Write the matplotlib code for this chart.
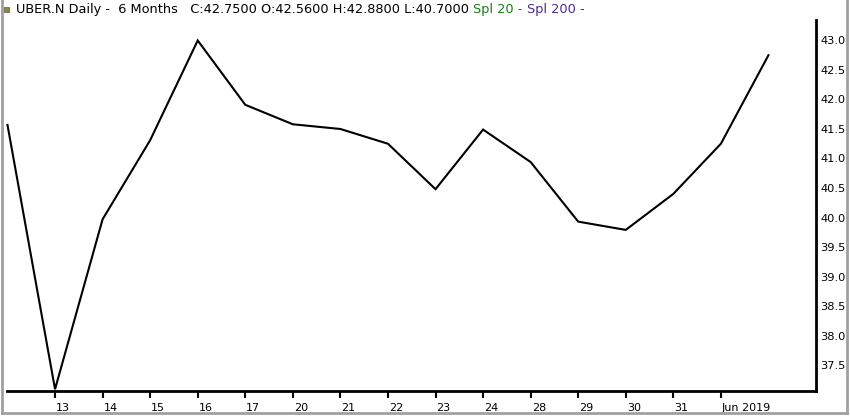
import matplotlib
matplotlib.use("Agg")
import matplotlib.pyplot as plt
from matplotlib.lines import Line2D
from matplotlib.patches import Rectangle
import matplotlib.transforms as mtrans

dates = ["10", "13", "14", "15", "16", "17", "20", "21", "22", "23", "24",
         "28", "29", "30", "31", "Jun 3", "4"]
close = [41.57, 37.09, 39.97, 41.31, 43.00, 41.91, 41.58, 41.50, 41.25, 40.48,
         41.49, 40.94, 39.93, 39.79, 40.40, 41.25, 42.75]
xtick_idx = list(range(1, 16))
xtick_labels = ["13", "14", "15", "16", "17", "20", "21", "22", "23", "24",
                "28", "29", "30", "31", "Jun 2019"]
ytick_vals = [37.5, 38.0, 38.5, 39.0, 39.5, 40.0, 40.5, 41.0, 41.5, 42.0, 42.5, 43.0]

title_parts = [("UBER.N Daily -  6 Months   C:42.7500 O:42.5600 H:42.8800 L:40.7000 ", "black"),
               ("Spl 20 - ", "#1a7a1a"),
               ("Spl 200 -", "#4b2a8c")]

plt.rcParams['font.family'] = ['DejaVu Sans']
fig = plt.figure(figsize=(8.5, 4.17), dpi=100)
W, H = 850, 417
ax = fig.add_axes([7 / W, 1 - 391 / H, (816 - 7) / W, (391 - 20) / H])

xs = list(range(len(close)))
ax.plot(xs, close, color="black", lw=1.5, solid_joinstyle="miter", clip_on=False)
ax.set_xlim(-0.01, 17.0)
ax.set_ylim(37.06, 43.347)

for s in ["left", "top"]:
    ax.spines[s].set_visible(False)
for s in ["bottom", "right"]:
    ax.spines[s].set_linewidth(2)
    ax.spines[s].set_color("black")

ax.yaxis.tick_right()
ax.set_yticks(ytick_vals)
ax.set_yticklabels([f"{v:.1f}" for v in ytick_vals], fontsize=8.2)
ax.tick_params(axis="y", length=0, pad=3)

ax.set_xticks(xtick_idx)
ax.set_xticklabels(xtick_labels, fontsize=8, ha="left")
ax.tick_params(axis="x", length=5, width=1.5, pad=3.5, direction="out")
offset = mtrans.ScaledTranslation(1 / 100, 0, fig.dpi_scale_trans)
for lbl in ax.get_xticklabels():
    lbl.set_transform(lbl.get_transform() + offset)

# title with colored parts
fig.canvas.draw()
renderer = fig.canvas.get_renderer()
x0 = 16 / W
for txt, col in title_parts:
    t = fig.text(x0, 1 - 9 / H, txt, color=col, fontsize=9.3, va="center", ha="left")
    bb = t.get_window_extent(renderer)
    x0 = bb.x1 / W

# small square icon
fig.add_artist(Rectangle((4 / W, 1 - 12 / H), 5 / W, 5 / H, transform=fig.transFigure,
                         facecolor="#8a8a30", edgecolor="#555555", lw=0.5))

# gray frame
fig.add_artist(Line2D([2 / W, 2 / W], [1 - 413 / H, 1], transform=fig.transFigure,
                      color="#a0a0a0", lw=2))
fig.add_artist(Line2D([847 / W, 847 / W], [1 - 413 / H, 1], transform=fig.transFigure,
                      color="#a0a0a0", lw=2))
fig.add_artist(Line2D([2 / W, 847 / W], [1 - 413 / H, 1 - 413 / H], transform=fig.transFigure,
                      color="#a0a0a0", lw=2))

fig.savefig("out.png", dpi=100)
